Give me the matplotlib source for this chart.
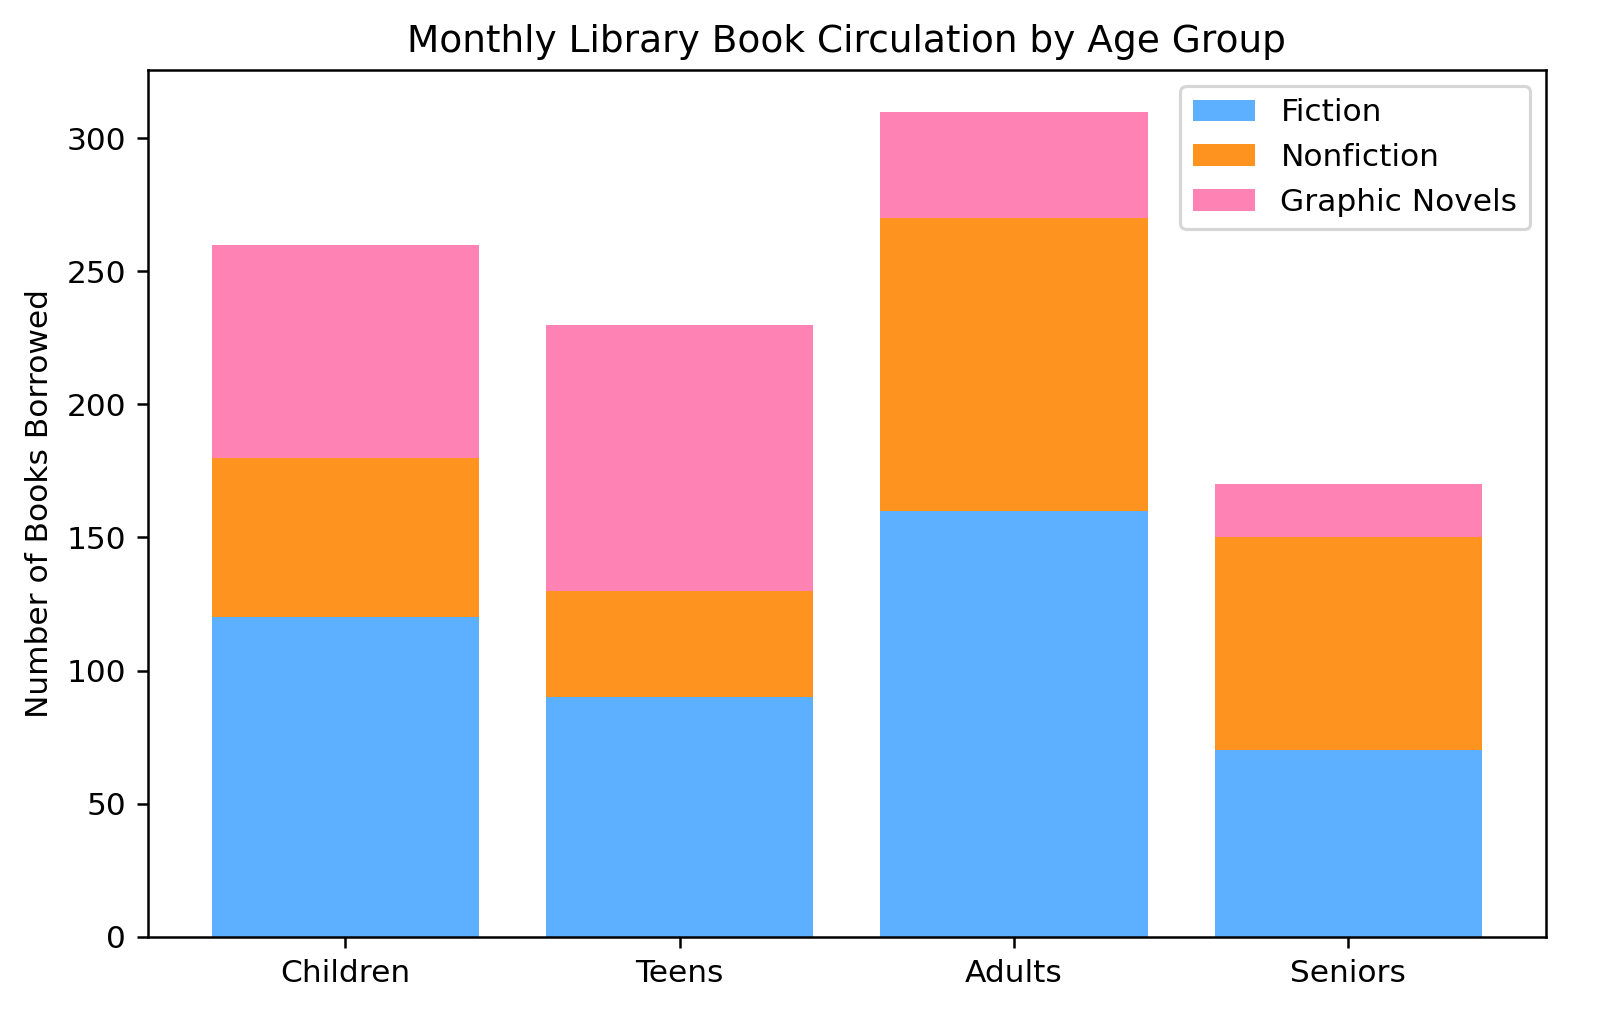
import matplotlib
matplotlib.use("Agg")
import matplotlib.pyplot as plt
import numpy as np

groups = ["Children", "Teens", "Adults", "Seniors"]
fiction = [120, 90, 160, 70]
nonfiction = [60, 40, 110, 80]
graphic = [80, 100, 40, 20]

colors = {"Fiction": "#5CB0FF", "Nonfiction": "#FF9320", "Graphic Novels": "#FF82B5"}

DPI = 225
fig, ax = plt.subplots(figsize=(1600 / DPI, 1034 / DPI), dpi=DPI)
x = np.arange(len(groups))
ax.bar(x, fiction, color=colors["Fiction"], label="Fiction")
ax.bar(x, nonfiction, bottom=fiction, color=colors["Nonfiction"], label="Nonfiction")
bottom2 = np.array(fiction) + np.array(nonfiction)
ax.bar(x, graphic, bottom=bottom2, color=colors["Graphic Novels"], label="Graphic Novels")
ax.set_xticks(x)
ax.set_xticklabels(groups)
ax.set_ylabel("Number of Books Borrowed")
ax.set_title("Monthly Library Book Circulation by Age Group")
ax.legend(loc="upper right")
fig.subplots_adjust(left=0.0925, right=0.966, top=0.932, bottom=0.094)
fig.savefig("out.png", dpi=DPI)
